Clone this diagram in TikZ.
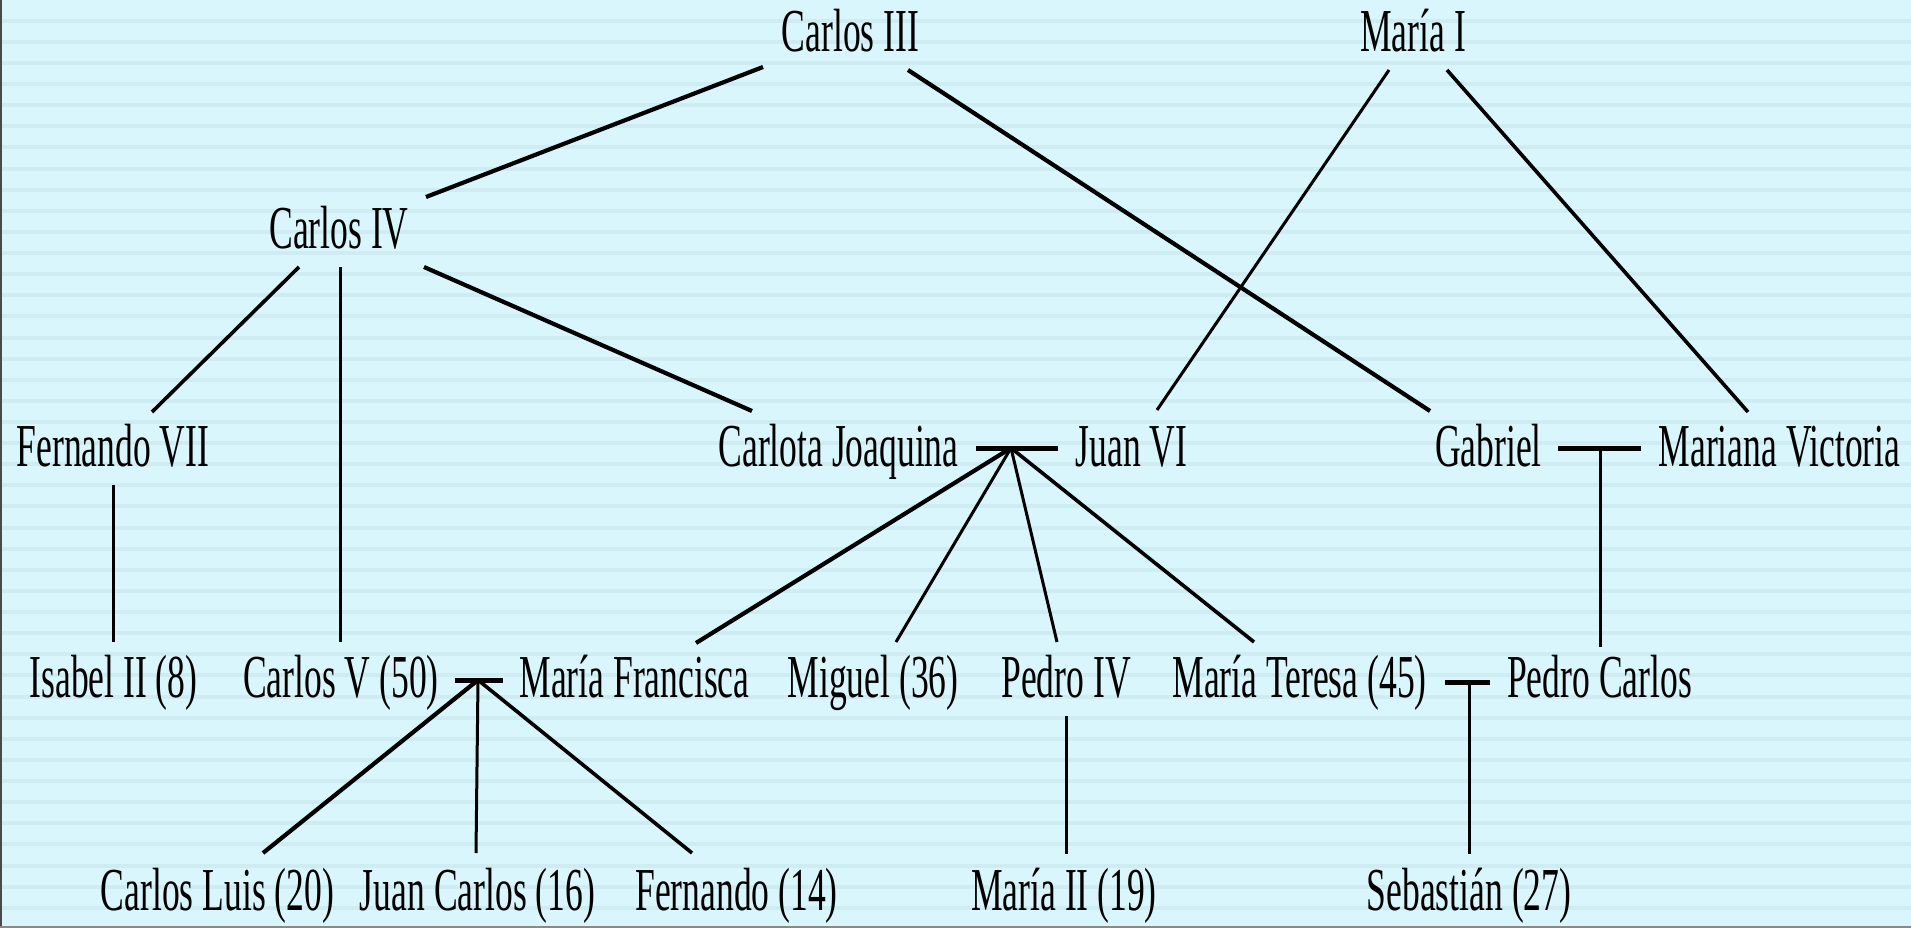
\documentclass[tikz,border=0pt]{standalone}
\usepackage{fontspec}
\setmainfont{Liberation Serif}[FakeStretch=0.583]
\definecolor{bgc}{HTML}{D9F6FC}
\definecolor{stripec}{HTML}{CFECF2}
\definecolor{leftb}{HTML}{4A4A4A}
\definecolor{botb}{HTML}{8A8A8A}
\tikzset{
  person/.style={anchor=base, inner sep=0pt, font=\fontsize{61}{70}\selectfont},
  thinline/.style={line width=3pt, line cap=butt},
  midline/.style={line width=3.6pt, line cap=butt},
  thickline/.style={line width=4.2pt, line cap=butt},
  barline/.style={line width=5pt, line cap=butt},
}
\begin{document}
\begin{tikzpicture}[x=1pt, y=-1pt]
\useasboundingbox (0,0) rectangle (1911,928);
% background
\fill[bgc] (0,0) rectangle (1911,928);
\foreach \k in {0,...,43} {
  \fill[stripec] (0,{20.7+21.12*\k-2}) rectangle (1911,{20.7+21.12*\k+2});
}
\fill[leftb] (0,0) rectangle (2,928);
\fill[botb] (0,925.5) rectangle (1911,928);

% people
\node[person] (c3)  at (850.5,52) {Carlos III};
\node[person] (m1)  at (1413,52) {María I};
\node[person] (c4)  at (339,248) {Carlos IV};
\node[person] (f7)  at (113,466) {Fernando VII};
\node[person] (cj)  at (838.5,466) {Carlota Joaquina};
\node[person] (j6)  at (1131.5,466) {Juan VI};
\node[person] (gab) at (1488.5,466) {Gabriel};
\node[person] (mv)  at (1779.5,466) {Mariana Victoria};
\node[person] (is2) at (113.5,697) {Isabel II (8)};
\node[person] (c5)  at (341,697) {Carlos V (50)};
\node[person] (mf)  at (634.5,697) {María Francisca};
\node[person] (mig) at (873,697) {Miguel (36)};
\node[person] (p4)  at (1066,697) {Pedro IV};
\node[person] (mt)  at (1299.5,697) {María Teresa (45)};
\node[person] (pc)  at (1599.5,697) {Pedro Carlos};
\node[person] (cl)  at (217.5,910) {Carlos Luis (20)};
\node[person] (jc)  at (477.5,910) {Juan Carlos (16)};
\node[person] (fer) at (736.5,910) {Fernando (14)};
\node[person] (m2)  at (1064,910) {María II (19)};
\node[person] (seb) at (1469,910) {Sebastián (27)};

% connector end points
\coordinate (c3-l) at (763,67);
\coordinate (c3-r) at (908,70);
\coordinate (m1-l) at (1389,70);
\coordinate (m1-r) at (1447,70);
\coordinate (c4-t) at (426,197);
\coordinate (c4-bl) at (299,267);
\coordinate (c4-bm) at (340,267);
\coordinate (c4-br) at (424,267);
\coordinate (f7-t) at (152,412);
\coordinate (f7-b) at (113,485);
\coordinate (cj-t) at (752,411);
\coordinate (j6-t) at (1157,410);
\coordinate (gab-t) at (1430,411);
\coordinate (mv-t) at (1748,412);
\coordinate (cjj-l) at (976,448);
\coordinate (cjj-r) at (1058,448);
\coordinate (cjj) at (1011,448);
\coordinate (gm-l) at (1558,448);
\coordinate (gm-r) at (1641,448);
\coordinate (gm) at (1600,448);
\coordinate (is2-t) at (113,642);
\coordinate (c5-t) at (340,642);
\coordinate (mf-t) at (696,643);
\coordinate (mig-t) at (896,642);
\coordinate (p4-t) at (1057,642);
\coordinate (mt-t) at (1254,642);
\coordinate (pc-t) at (1600,647);
\coordinate (cm-l) at (455,680);
\coordinate (cm-r) at (503,680);
\coordinate (cm) at (478,680);
\coordinate (p4-b) at (1066,716);
\coordinate (tp-l) at (1445,682);
\coordinate (tp-r) at (1490,682);
\coordinate (tp) at (1469,682);
\coordinate (cl-t) at (263,853);
\coordinate (jc-t) at (476,853);
\coordinate (fer-t) at (692,853);
\coordinate (m2-t) at (1066,854);
\coordinate (seb-t) at (1469,854);

% connectors
\draw[thickline] (c3-l) -- (c4-t);
\draw[thickline] (c3-r) -- (gab-t);
\draw[thinline] (m1-l) -- (j6-t);
\draw[midline] (m1-r) -- (mv-t);
\draw[midline] (c4-bl) -- (f7-t);
\draw[thinline] (c4-bm) -- (c5-t);
\draw[thickline] (c4-br) -- (cj-t);
\draw[thinline] (f7-b) -- (is2-t);
\draw[barline] (cjj-l) -- (cjj-r);
\draw[thickline] (cjj) -- (mf-t);
\draw[thinline] (cjj) -- (mig-t);
\draw[thinline] (cjj) -- (p4-t);
\draw[midline] (cjj) -- (mt-t);
\draw[barline] (gm-l) -- (gm-r);
\draw[thinline] (gm) -- (pc-t);
\draw[barline] (cm-l) -- (cm-r);
\draw[thickline] (cm) -- (cl-t);
\draw[thinline] (cm) -- (jc-t);
\draw[midline] (cm) -- (fer-t);
\draw[thinline] (p4-b) -- (m2-t);
\draw[barline] (tp-l) -- (tp-r);
\draw[thinline] (tp) -- (seb-t);
\end{tikzpicture}
\end{document}
